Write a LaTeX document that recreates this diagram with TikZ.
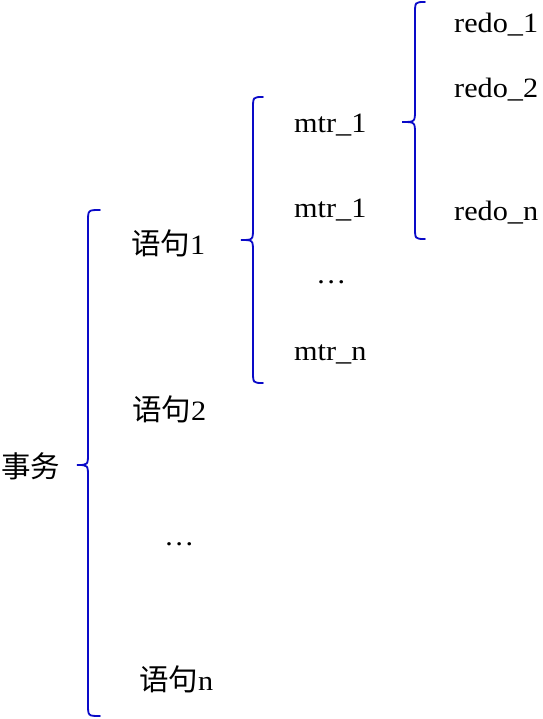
\documentclass[tikz,border=0pt]{standalone}
\usepackage{fontspec}
\setmainfont{Liberation Serif}[FakeStretch=1.08]
\newfontfamily\cjk{Noto Sans CJK SC}
\definecolor{bracecol}{RGB}{10,10,200}
\newcommand{\bracepath}[7]{% name, ends x, line x, tip x, top y, tip y, bottom y
  \draw[bracestyle] (#2,#5) .. controls (#3,#5) .. (#3,#5+12) -- (#3,#6-12)
    .. controls (#3,#6) .. (#4,#6) coordinate (#1)
    .. controls (#3,#6) .. (#3,#6+12) -- (#3,#7-12)
    .. controls (#3,#7) .. (#2,#7);}
\begin{document}
\begin{tikzpicture}[x=1pt,y=-1pt,
  bracestyle/.style={draw=bracecol,line width=1.8pt,line cap=round},
  lbl/.style={anchor=base west,inner sep=0pt,font=\fontsize{28}{30}\selectfont},
  cjklbl/.style={anchor=base west,inner sep=0pt,font=\fontsize{29.5}{32}\selectfont}]
\useasboundingbox (0,0) rectangle (542,719);
% braces
\bracepath{b1}{100}{88}{77}{210}{465}{716}
\bracepath{b2}{263}{253}{241}{97}{240}{383}
\bracepath{b3}{425}{415}{402}{2}{122}{239}
% level 0
\node[cjklbl] (tx) at (1,477) {\cjk 事务};
% level 1
\node[cjklbl] (s1) at (131,254) {\cjk 语句\normalfont\fontsize{28}{30}\selectfont 1};
\node[cjklbl] (s2) at (132,420) {\cjk 语句\normalfont\fontsize{28}{30}\selectfont 2};
\node[lbl] (sd) at (164,545) {…};
\node[cjklbl] (sn) at (139,690) {\cjk 语句\normalfont\fontsize{28}{30}\selectfont n};
% level 2
\node[lbl] (m1) at (294,133) {mtr\_1};
\node[lbl] (m2) at (294,218) {mtr\_1};
\node[lbl] (md) at (316,283) {…};
\node[lbl] (mn) at (294,360) {mtr\_n};
% level 3
\node[lbl] (r1) at (454,33) {redo\_1};
\node[lbl] (r2) at (454,98) {redo\_2};
\node[lbl] (rn) at (454,220) {redo\_n};
\end{tikzpicture}
\end{document}
